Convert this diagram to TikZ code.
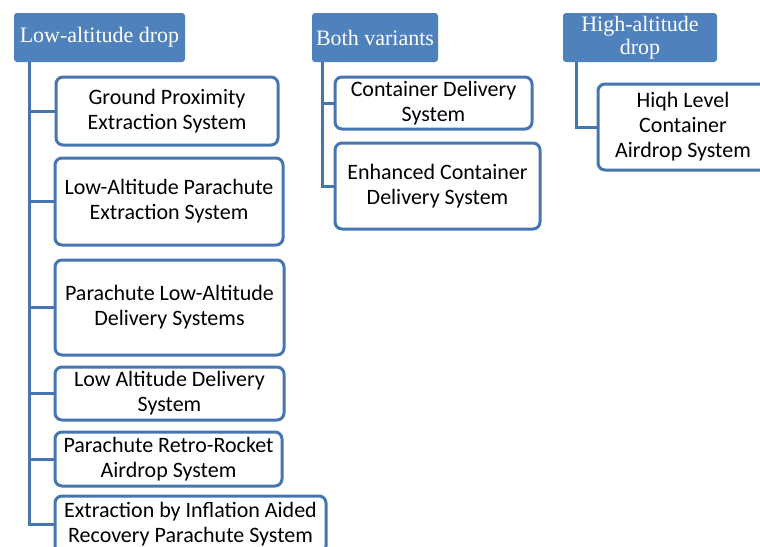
\documentclass[tikz,border=0pt]{standalone}
\usepackage{fontspec}
\setmainfont{Carlito}
\newfontfamily\hdrfont{Liberation Serif}
\definecolor{hblue}{HTML}{4F81BD}
\definecolor{lblue}{HTML}{4676B0}
\begin{document}
\begin{tikzpicture}[x=1pt,y=-1pt,
  hdr/.style={fill=hblue, draw=none, rounded corners=3pt, text=white, align=center,
    inner sep=0pt, font=\hdrfont\fontsize{22}{23}\selectfont},
  child/.style={draw=lblue, line width=3pt, fill=white, rounded corners=7pt, align=center,
    inner sep=0pt, font=\fontsize{22}{25}\selectfont, text=black},
  conn/.style={draw=lblue, line width=3pt}]
\useasboundingbox (0,0) rectangle (760,546);
\clip (0,0) rectangle (760,546);
% headers
\node[hdr, minimum width=171pt, minimum height=49pt] (h1) at (99.5,37.5) {Low-altitude drop};
\node[hdr, minimum width=126pt, minimum height=49pt] (h2) at (375,37.5) {Both variants};
\node[hdr, minimum width=154pt, minimum height=49pt] (h3) at (640,37.5) {High-altitude\\drop};
% connector anchors
\coordinate (t1) at ([xshift=16pt]h1.south west);
\coordinate (t2) at ([xshift=11pt]h2.south west);
\coordinate (t3) at ([xshift=14pt]h3.south west);
% children of low-altitude
\node[child, minimum width=222pt, minimum height=68pt] (c1) at (167,111) {Ground Proximity\\Extraction System};
\node[child, minimum width=228pt, minimum height=87pt] (c2) at (169,201.5) {Low-Altitude Parachute\\Extraction System};
\node[child, minimum width=229pt, minimum height=95pt] (c3) at (169.5,307.5) {Parachute Low-Altitude\\Delivery Systems};
\node[child, minimum width=229pt, minimum height=53pt] (c4) at (169.5,393.5) {Low Altitude Delivery\\System};
\node[child, minimum width=227pt, minimum height=54pt] (c5) at (168.5,459) {Parachute Retro-Rocket\\Airdrop System};
\node[child, minimum width=271pt, minimum height=57pt] (c6) at (190.5,524.5) {Extraction by Inflation Aided\\Recovery Parachute System};
% both variants
\node[child, minimum width=197pt, minimum height=52pt] (b1) at (433.5,103) {Container Delivery\\System};
\node[child, minimum width=205pt, minimum height=86pt] (b2) at (437.5,186) {Enhanced Container\\Delivery System};
% high altitude
\node[child, minimum width=170pt, minimum height=86pt] (a1) at (683,127) {Hiqh Level\\Container\\Airdrop System};
\draw[conn] (t1) |- (c1.west);
\draw[conn] (t1) |- (c2.west);
\draw[conn] (t1) |- (c3.west);
\draw[conn] (t1) |- (c4.west);
\draw[conn] (t1) |- (c5.west);
\draw[conn] (t1) |- (c6.west);
\draw[conn] (t2) |- (b1.west);
\draw[conn] (t2) |- (b2.west);
\draw[conn] (t3) |- (a1.west);
\end{tikzpicture}
\end{document}
